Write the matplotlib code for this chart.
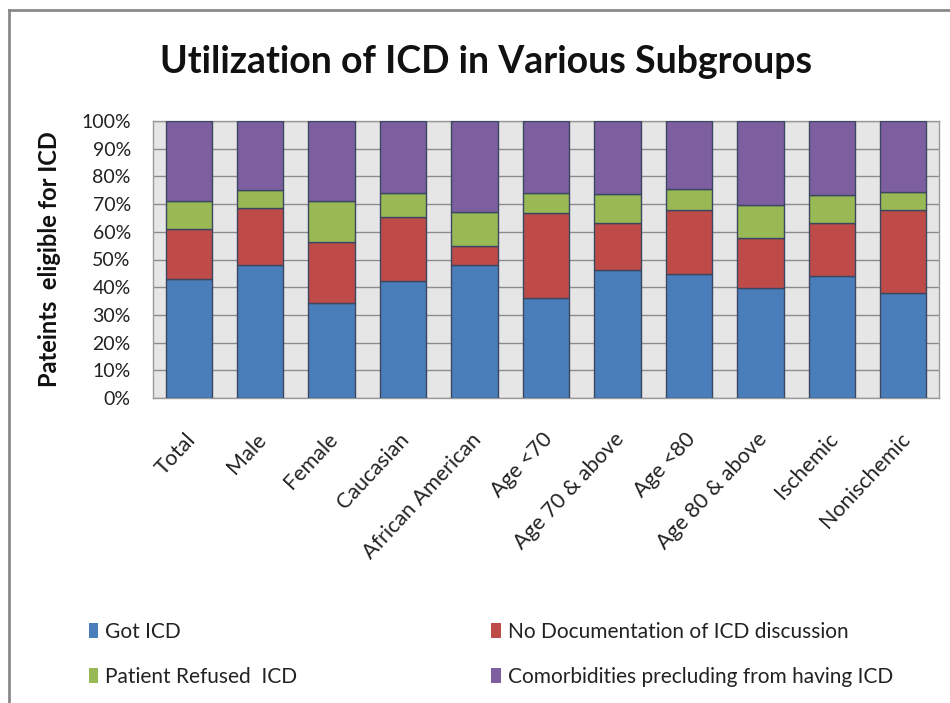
import matplotlib
matplotlib.use("Agg")
import matplotlib.pyplot as plt
import matplotlib.transforms as mtransforms
from matplotlib.patches import Patch
from matplotlib.lines import Line2D
import numpy as np

plt.rcParams['font.family'] = ['Lato', 'DejaVu Sans']

categories = ["Total", "Male", "Female", "Caucasian", "African American", "Age <70",
              "Age 70 & above", "Age <80", "Age 80 & above", "Ischemic", "Nonischemic"]
got_icd = [43.1, 48.1, 34.2, 42.1, 48.1, 36.2, 46.3, 44.9, 39.8, 43.9, 38.0]
no_doc = [18.0, 20.5, 22.0, 23.3, 6.7, 30.6, 16.7, 22.9, 18.0, 19.3, 29.8]
refused = [10.0, 6.5, 14.8, 8.7, 12.4, 7.3, 10.8, 7.6, 11.8, 10.0, 6.6]
comorbid = [28.9, 24.9, 29.0, 25.9, 32.8, 25.9, 26.2, 24.6, 30.4, 26.8, 25.6]
series_names = ["Got ICD", "No Documentation of ICD discussion",
                "Patient Refused  ICD", "Comorbidities precluding from having ICD"]
yticks = [0, 10, 20, 30, 40, 50, 60, 70, 80, 90, 100]
ytick_labels = ["0%", "10%", "20%", "30%", "40%", "50%", "60%", "70%", "80%", "90%", "100%"]

colors = ["#4A7EBB", "#BE4B48", "#98B954", "#7D5FA0"]
edge = "#3B4660"

W, H = 950, 703
fig = plt.figure(figsize=(W / 100, H / 100), dpi=100)
fig.patch.set_facecolor("white")

# frame
fig.add_artist(Line2D([9 / W, 9 / W], [0, 1 - 10 / H], transform=fig.transFigure,
                      color="#8a8a8a", lw=2))
fig.add_artist(Line2D([9 / W, 1], [1 - 10 / H, 1 - 10 / H], transform=fig.transFigure,
                      color="#8a8a8a", lw=2))

ax = fig.add_axes([153 / W, 1 - 398 / H, (939 - 153) / W, (398 - 121) / H])
ax.set_facecolor("#E6E6E6")

x = np.arange(len(categories))
bw = 0.65
data = [got_icd, no_doc, refused, comorbid]
bottom = np.zeros(len(categories))
for vals, c, name in zip(data, colors, series_names):
    ax.bar(x, vals, bw, bottom=bottom, color=c, edgecolor=edge, linewidth=1.0,
           label=name, zorder=3)
    bottom += np.array(vals)

ax.set_xlim(-0.5, len(categories) - 0.5)
ax.set_ylim(0, 100)
ax.set_yticks(yticks)
ax.set_yticklabels(ytick_labels, fontsize=14, color="#222222")
ax.yaxis.grid(True, color="#8C8C8C", lw=1, zorder=1)
ax.set_axisbelow(True)
ax.tick_params(axis="y", length=0, pad=16)
ax.tick_params(axis="x", length=0)
ax.set_xticks(x)
ax.set_xticklabels(categories, rotation=47, ha="right", rotation_mode="anchor",
                   fontsize=15.5, color="#222222")
offset = mtransforms.ScaledTranslation(-3 / 72, -19 / 72, fig.dpi_scale_trans)
for lab in ax.get_xticklabels():
    lab.set_transform(lab.get_transform() + offset)

for s in ax.spines.values():
    s.set_color("#9A9A9A")
    s.set_linewidth(1)

ax.set_ylabel("Pateints  eligible for ICD", fontsize=17, fontweight="bold",
              color="#111111")
ax.yaxis.set_label_coords(-(153 - 61) / (939 - 153), 0.5)

fig.text(486 / W, 1 - 62 / H, "Utilization of ICD in Various Subgroups", ha="center",
         va="center", fontsize=27, fontweight="bold", color="#111111")

handles = [Patch(facecolor=colors[i], edgecolor="none") for i in range(4)]
order = [0, 2, 1, 3]
leg = fig.legend([handles[i] for i in order], [series_names[i] for i in order],
                 ncol=2, loc="upper left", bbox_to_anchor=(70 / W, 1 - 603 / H),
                 frameon=False, fontsize=15, handlelength=0.45, handleheight=0.7,
                 handletextpad=0.35, columnspacing=9.3, labelspacing=1.2)
for t in leg.get_texts():
    t.set_color("#222222")

fig.savefig("out.png", dpi=100, facecolor="white")
